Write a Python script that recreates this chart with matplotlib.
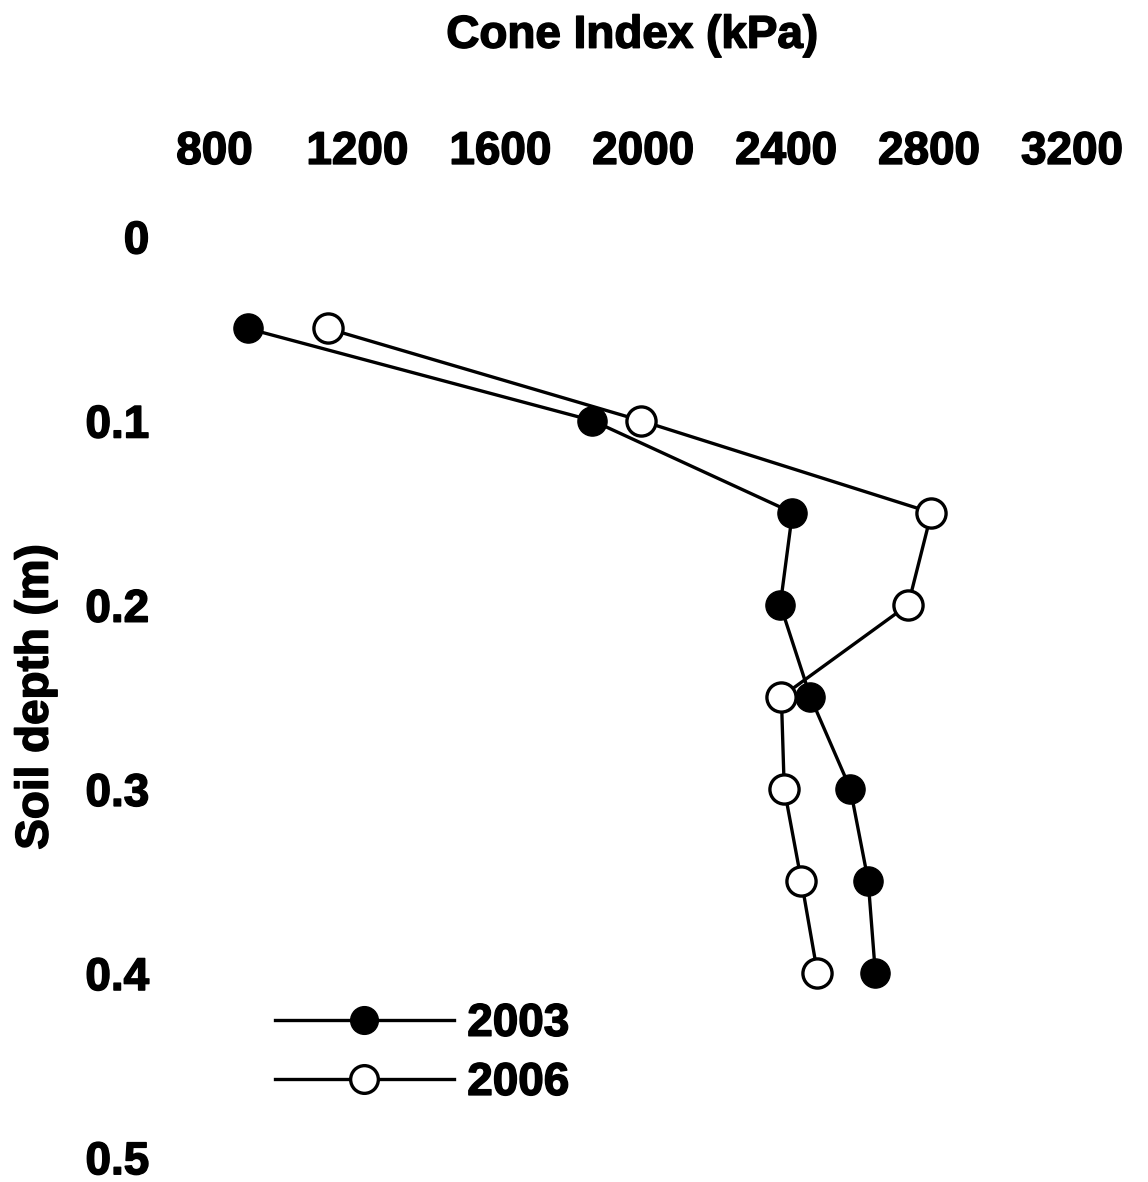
import matplotlib.pyplot as plt
import matplotlib.patheffects as pe

plt.rcParams['font.family'] = ['Liberation Sans', 'DejaVu Sans']
plt.rcParams['font.weight'] = 'bold'

# depth (m) and cone index (kPa)
depth = [0.05, 0.10, 0.15, 0.20, 0.25, 0.30, 0.35, 0.40]
ci_2003 = [892, 1857, 2417, 2383, 2467, 2579, 2629, 2649]
ci_2006 = [1116, 1992, 2806, 2741, 2386, 2394, 2442, 2487]

x_ticks = [800, 1200, 1600, 2000, 2400, 2800, 3200]
y_ticks = [0, 0.1, 0.2, 0.3, 0.4, 0.5]

heavy = [pe.withStroke(linewidth=1.1, foreground='black')]

fig = plt.figure(figsize=(11.48, 11.82), dpi=100)
ax = fig.add_axes([0.187, 0.021, 0.747, 0.779])

ax.plot(ci_2003, depth, color='black', linewidth=2.4, marker='o', markersize=21,
        markerfacecolor='black', markeredgecolor='black', label='2003')
ax.plot(ci_2006, depth, color='black', linewidth=2.4, marker='o', markersize=21,
        markerfacecolor='white', markeredgecolor='black', markeredgewidth=2.4,
        label='2006')

ax.set_xlim(800, 3200)
ax.set_ylim(0.5, 0)
ax.set_xticks(x_ticks)
ax.set_yticks(y_ticks)
ax.set_yticklabels(['0', '0.1', '0.2', '0.3', '0.4', '0.5'])
ax.xaxis.tick_top()
ax.tick_params(axis='x', length=0, pad=45, labelsize=33)
ax.tick_params(axis='y', length=0, pad=47, labelsize=33)
for s in ax.spines.values():
    s.set_visible(False)

ax.set_xlabel('Cone Index (kPa)', fontsize=33, fontweight='bold', va='center')
ax.xaxis.set_label_coords(0.487, 1.218)
ax.set_ylabel('Soil depth (m)', fontsize=33, fontweight='bold', labelpad=20)

leg = ax.legend(loc='lower left', bbox_to_anchor=(0.022, 0.012), frameon=False,
                fontsize=33, handlelength=3.9, handletextpad=0.3,
                labelspacing=0.33, markerscale=0.95)

for t in ax.get_xticklabels() + ax.get_yticklabels() + leg.get_texts():
    t.set_path_effects(heavy)
ax.xaxis.label.set_path_effects(heavy)
ax.yaxis.label.set_path_effects(heavy)

fig.savefig('out.png', dpi=100, facecolor='white')
